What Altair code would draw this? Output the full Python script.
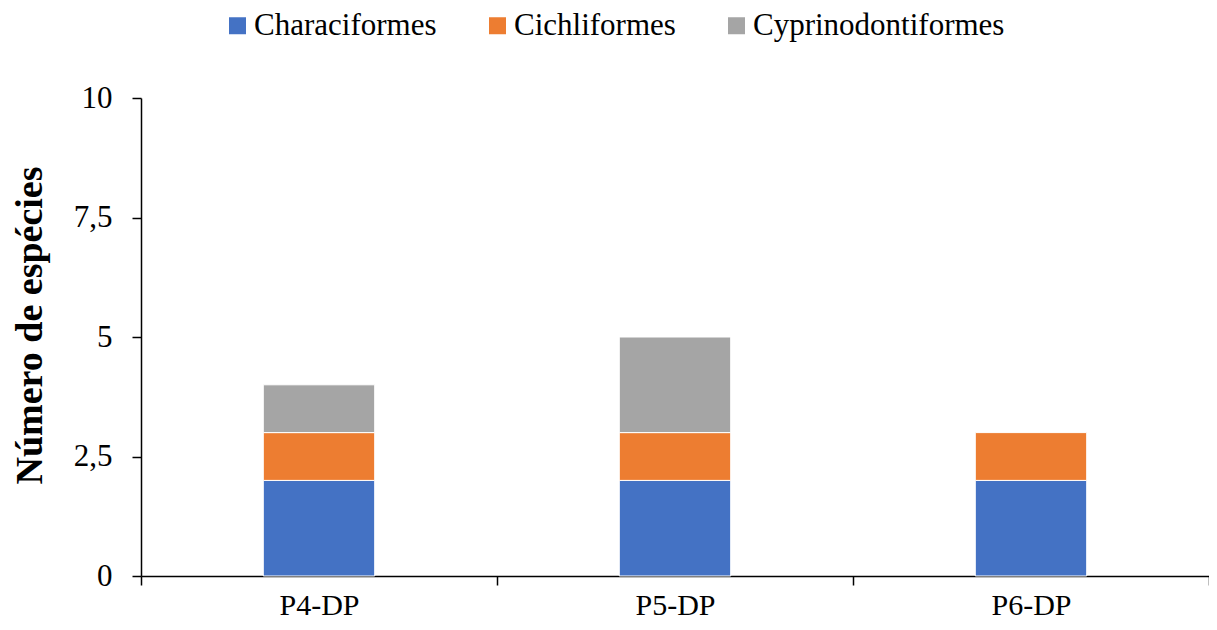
import altair as alt
import pandas as pd

sites = ["P4-DP", "P5-DP", "P6-DP"]
orders = ["Characiformes", "Cichliformes", "Cyprinodontiformes"]
characiformes = [2, 2, 2]
cichliformes = [1, 1, 1]
cyprinodontiformes = [1, 2, 0]
colors = ["#4472C4", "#ED7D31", "#A5A5A5"]
y_ticks = [0, 2.5, 5, 7.5, 10]

rows = []
for i, series in enumerate([characiformes, cichliformes, cyprinodontiformes]):
    for s, v in zip(sites, series):
        if v > 0:
            rows.append({"site": s, "ordem": orders[i], "idx": i, "n": v})
df = pd.DataFrame(rows)

FONT = "Liberation Serif"

chart = alt.Chart(df).mark_bar(
    width=alt.RelativeBandSize(0.313), stroke="white", strokeWidth=1
).encode(
    x=alt.X("site:N", sort=sites,
            scale=alt.Scale(paddingInner=0, paddingOuter=0),
            axis=alt.Axis(title=None, labelAngle=0, tickBand="extent",
                          labelFont=FONT, labelFontSize=30, labelColor="#000",
                          labelPadding=5, tickSize=9, tickColor="#000",
                          tickWidth=1.5, domainColor="#000", domainWidth=1.5)),
    y=alt.Y("n:Q", stack="zero",
            scale=alt.Scale(domain=[0, 10], nice=False),
            axis=alt.Axis(title="Número de espécies", values=y_ticks,
                          labelExpr="replace(toString(datum.value), '.', ',')",
                          labelFont=FONT, labelFontSize=31, labelColor="#000",
                          labelPadding=20, tickSize=9, tickColor="#000",
                          tickWidth=1.5, domainColor="#000", domainWidth=1.5,
                          grid=False,
                          titleFont=FONT, titleFontSize=38, titleFontWeight="bold",
                          titleColor="#000", titleAngle=270, titleX=-100,
                          titleY=227, titleAlign="center",
                          titleBaseline="alphabetic")),
    color=alt.Color("ordem:N", sort=orders,
                    scale=alt.Scale(domain=orders, range=colors),
                    legend=alt.Legend(title=None, orient="none", direction="horizontal",
                                      legendX=81, legendY=-88,
                                      symbolType="square", symbolSize=289,
                                      symbolStrokeWidth=0,
                                      labelFont=FONT, labelFontSize=31,
                                      labelColor="#000", labelOffset=1,
                                      labelLimit=0, columnPadding=45)),
    order=alt.Order("idx:Q", sort="ascending"),
).properties(
    width=1068, height=478,
    autosize=alt.AutoSizeParams(type="none"),
    padding={"left": 133, "top": 90, "right": 0, "bottom": 44},
).configure_view(stroke=None)

chart.save("out.html", embed_options={"renderer": "svg", "actions": False})
